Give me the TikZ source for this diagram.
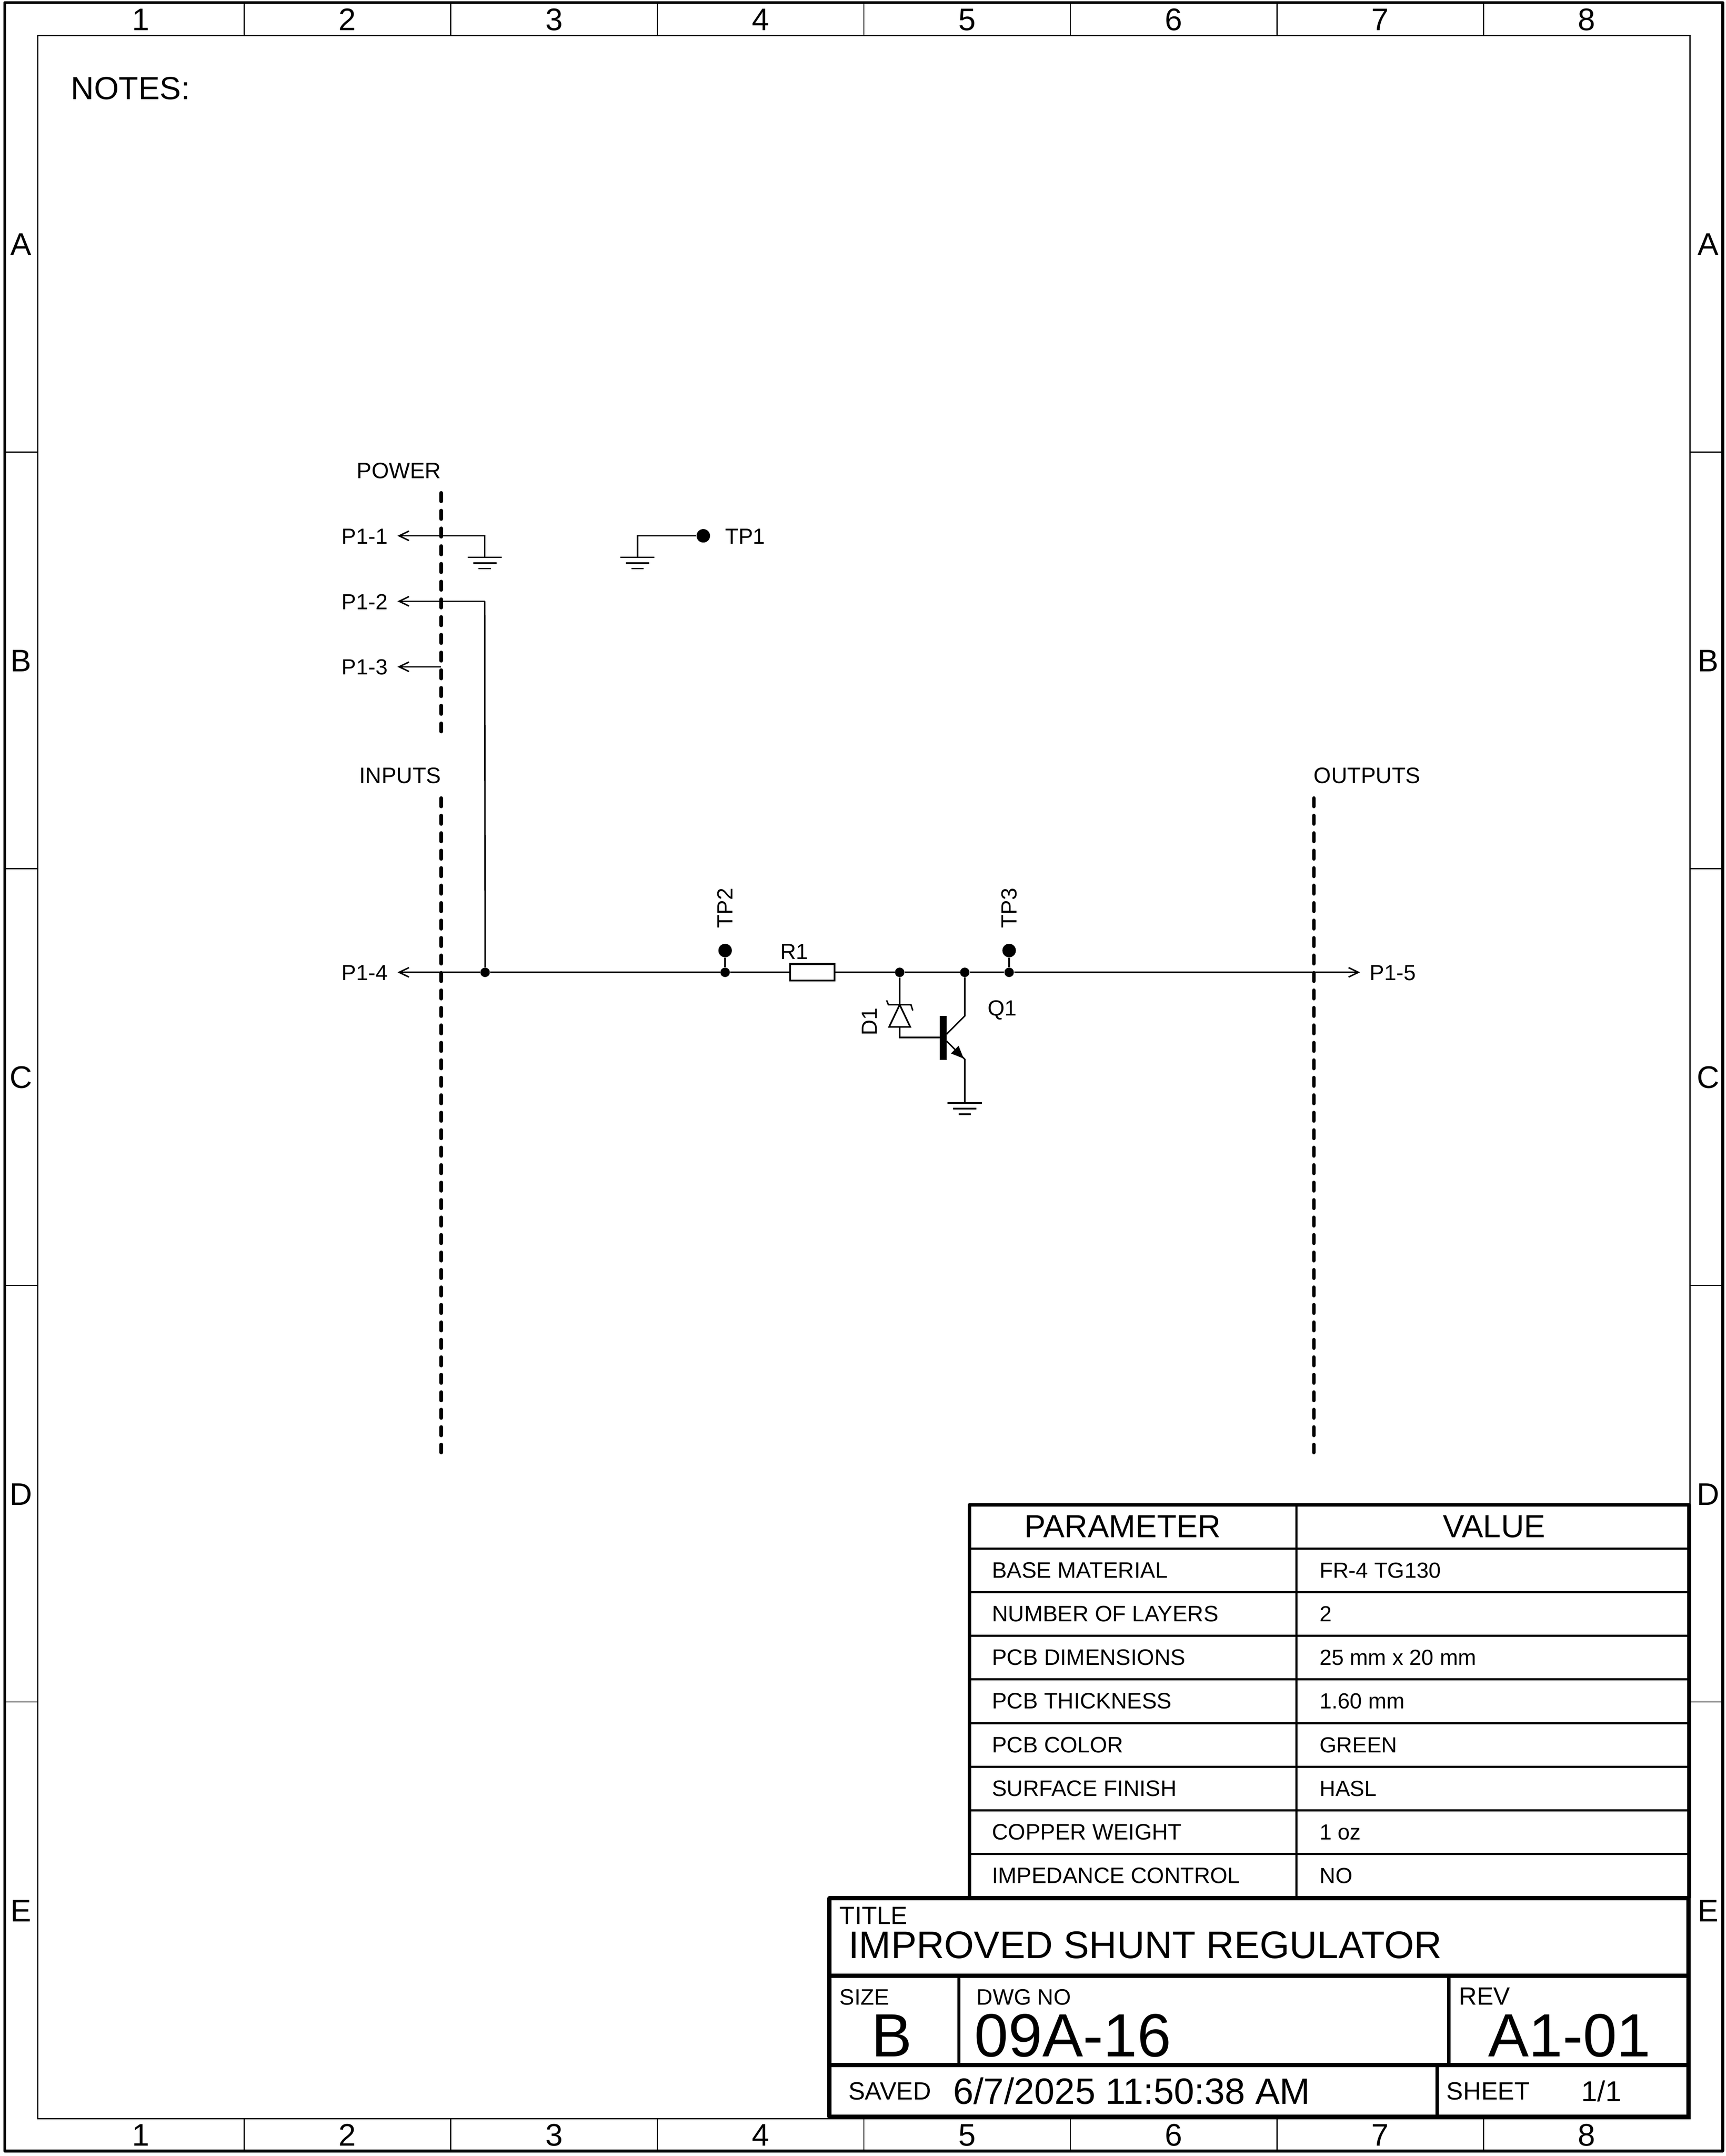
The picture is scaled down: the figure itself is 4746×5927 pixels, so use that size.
\documentclass[tikz,border=0pt]{standalone}
\usepackage{fontspec}
\setmainfont{Liberation Sans}
\usetikzlibrary{arrows.meta,calc}
\tikzset{
  txt/.style={inner sep=0pt,outer sep=0pt,anchor=base west,text=black},
  fsm/.style={txt,font=\fontsize{17.07}{20}\selectfont},
  fcap/.style={txt,font=\fontsize{17.45}{20}\selectfont},
  fmd/.style={txt,font=\fontsize{19.5}{22}\selectfont},
  fedge/.style={txt,font=\fontsize{24.4}{28}\selectfont},
  flg/.style={txt,font=\fontsize{25}{28}\selectfont},
  fttl/.style={txt,font=\fontsize{30}{34}\selectfont},
  fbig/.style={txt,font=\fontsize{47.7}{54}\selectfont},
  fdate/.style={txt,font=\fontsize{28.6}{32}\selectfont},
  fsh/.style={txt,font=\fontsize{22.5}{25}\selectfont},
  wire/.style={draw=black,line width=0.04cm},
  outlet/.style={wire,-{Straight Barb[length=0.27cm,width=0.26cm]}},
  junc/.style={circle,fill=black,inner sep=0pt,minimum size=0.26cm},
  pad/.style={circle,fill=black,inner sep=0pt,minimum size=0.37cm},
  busdash/.style={draw=black,line width=0.1cm,line cap=round,dash pattern=on 0.23cm off 0.25cm},
  pwrdash/.style={draw=black,line width=0.1cm,line cap=round,dash pattern=on 0.23cm off 0.257cm},
  tick/.style={draw=black,line width=0.028cm},
  rowline/.style={draw=black,line width=0.06cm},
  tblframe/.style={draw=black,line width=0.1cm,line join=round},
  heavy/.style={draw=black,line width=0.12cm,line join=round},
  divider/.style={draw=black,line width=0.09cm},
  gbar/.style={draw=black,line width=0.045cm},
  res/.style={rectangle,draw=black,line width=0.05cm,fill=white,inner sep=0pt,minimum width=1.22cm,minimum height=0.46cm},
}
\newcommand{\gnd}[1]{%
  \draw[gbar] ($(#1)+(-47,0)$) -- ($(#1)+(47,0)$);
  \draw[gbar] ($(#1)+(-32,16)$) -- ($(#1)+(32,16)$);
  \draw[gbar] ($(#1)+(-17,31)$) -- ($(#1)+(17,31)$);
}
\begin{document}
\begin{tikzpicture}[x=0.01cm,y=-0.01cm]
\useasboundingbox (0,0) rectangle (4746,5927);
\fill[white] (0,0) rectangle (4746,5927);
% frames
\draw[draw=black,line width=0.08cm,line join=round] (13,7) rectangle (4737,5913);
\draw[draw=black,line width=0.033cm] (103.5,97.5) rectangle (4647.5,5824);
\foreach \i in {1,...,7}{
  \pgfmathsetmacro{\xx}{103.5+568*\i}
  \draw[tick] (\xx,11) -- (\xx,97.5);
  \draw[tick] (\xx,5824) -- (\xx,5909);
}
\foreach \i in {1,...,4}{
  \pgfmathsetmacro{\yy}{97.5+1145.3*\i}
  \draw[tick] (17,\yy) -- (103.5,\yy);
  \draw[tick] (4647.5,\yy) -- (4733,\yy);
}
\foreach \i in {1,...,8}{
  \pgfmathsetmacro{\xx}{103.5+568*(\i-0.5)}
  \node[fedge,anchor=base] (top\i) at (\xx,83) {\i};
  \node[fedge,anchor=base] (bot\i) at (\xx,5899) {\i};
}
\foreach \l [count=\i] in {A,B,C,D,E}{
  \pgfmathsetmacro{\yy}{97.5+1145.3*(\i-0.5)+31}
  \node[fedge,anchor=base] (lft\l) at (58,\yy) {\l};
  \node[fedge,anchor=base] (rgt\l) at (4697,\yy) {\l};
}
\node[flg] (notes) at (195,273) {NOTES:};
% dashed bus lines
\coordinate (pwrT) at (1213,1355); \coordinate (pwrB) at (1213,2011);
\coordinate (inT) at (1213,2194);  \coordinate (inB) at (1213,3993);
\coordinate (outT) at (3613,2194); \coordinate (outB) at (3613,3993);
\draw[pwrdash] (pwrT) -- (pwrB);
\draw[busdash] (inT) -- (inB);
\draw[busdash] (outT) -- (outB);
\node[fcap] (lblpower) at (981,1315) {POWER};
\node[fcap] (lblinputs) at (988,2153) {INPUTS};
\node[fcap] (lbloutputs) at (3613,2153) {OUTPUTS};
% power connectors
\coordinate (p1) at (1093,1473); \coordinate (p2) at (1093,1653); \coordinate (p3) at (1093,1833);
\coordinate (p4) at (1093,2673); \coordinate (p5) at (3740,2673);
\coordinate (g1) at (1333,1532); \coordinate (g1c) at (1333,1473);
\coordinate (g2) at (1753,1532); \coordinate (g2c) at (1753,1473);
\coordinate (p2c) at (1333,1653); \coordinate (p3e) at (1213,1833);
\node[fsm] (lp1) at (940,1495) {P1-1};
\node[fsm] (lp2) at (940,1675) {P1-2};
\node[fsm] (lp3) at (940,1855) {P1-3};
\node[fsm] (lp4) at (940,2695) {P1-4};
\node[fsm] (lp5) at (3767,2695) {P1-5};
\draw[outlet] (g1) -- (g1c) -- (p1);
\draw[outlet] (p3e) -- (p3);
\gnd{g1}
\gnd{g2}
\node[pad] (tp1) at (1934,1473) {};
\draw[wire] (g2) -- (g2c) -- (tp1);
\node[fsm] (ltp1) at (1994,1495) {TP1};
% main bus junctions
\node[junc] (j0) at (1334,2673) {};
\node[junc] (j1) at (1994,2673) {};
\node[junc] (j2) at (2474,2673) {};
\node[junc] (j3) at (2653,2673) {};
\node[junc] (j4) at (2775,2673) {};
\node[res] (r1) at (2234,2673) {};
\node[pad] (tp2) at (1994,2613) {};
\node[pad] (tp3) at (2775,2613) {};
\draw[outlet] (j0) -- (p4);
\draw[outlet] (j4) -- (p5);
\draw[wire] (j0) -- (j1) -- (r1.west);
\draw[wire] (r1.east) -- (j2) -- (j3) -- (j4);
\draw[wire] (j1) -- (tp2);
\draw[wire] (j4) -- (tp3);
\draw[wire] (p2c) -- (j0);
\draw[outlet] (p2c) -- (p2);
\node[fsm,rotate=90] (ltp2) at (2015,2551) {TP2};
\node[fsm,rotate=90] (ltp3) at (2796,2551) {TP3};
\node[fsm] (lr1) at (2146,2637) {R1};
% zener
\coordinate (zk) at (2474,2762); \coordinate (za) at (2474,2823);
\coordinate (zb) at (2474,2852);
\coordinate (qb) at (2584,2852);
\draw[wire] (j2) -- (zk);
\draw[draw=black,line width=0.045cm,line join=miter] (2445,2823) -- (2503,2823) -- (zk) -- cycle;
\draw[wire] (2438,2750) -- (2443,2762) -- (2505,2762) -- (2510,2778);
\draw[wire] (za) -- (zb) -- (qb);
\node[fsm,rotate=90] (ld1) at (2412,2847) {D1};
% transistor
\fill[black] (2584,2793) rectangle (2603,2914);
\coordinate (qc1) at (2603,2843); \coordinate (qc2) at (2653,2793);
\coordinate (qe1) at (2603,2862); \coordinate (qe2) at (2653,2912);
\coordinate (g3) at (2653,3032);
\draw[wire] (qc1) -- (qc2) -- (j3);
\draw[wire] (qe1) -- (qe2) -- (g3);
\fill[black] (2650,2910) -- (2636,2875) -- (2615,2896) -- cycle;
\gnd{g3}
\node[fsm] (lq1) at (2716,2792) {Q1};
% parameter table
\fill[white] (2666,4137) rectangle (4645,5218);
\draw[rowline] (3565,4137) -- (3565,5218);
\foreach \i in {1,...,8}{
  \pgfmathsetmacro{\yy}{4137+120*\i}
  \draw[rowline] (2666,\yy) -- (4645,\yy);
}
\draw[tblframe] (2666,5218) -- (2666,4137) -- (4645,4137) -- (4645,5218);
\node[flg] (hpar) at (2817,4226) {PARAMETER};
\node[flg] (hval) at (3968,4226) {VALUE};
\foreach \p/\v [count=\i from 0] in {BASE MATERIAL/FR-4 TG130,NUMBER OF LAYERS/2,PCB DIMENSIONS/25 mm x 20 mm,PCB THICKNESS/1.60 mm,PCB COLOR/GREEN,SURFACE FINISH/HASL,COPPER WEIGHT/1 oz,IMPEDANCE CONTROL/NO}{
  \pgfmathsetmacro{\yy}{4337.5+120*\i}
  \node[fcap] (tp\i) at (2728,\yy) {\p};
  \node[fsm] (tv\i) at (3629,\yy) {\v};
}
% title block
\fill[white] (2281,5218) rectangle (4643,5819);
\draw[heavy] (2281,5218) rectangle (4643,5819);
\draw[heavy] (2281,5431) -- (4643,5431);
\draw[heavy] (2281,5677) -- (4643,5677);
\draw[divider] (2637,5431) -- (2637,5677);
\draw[divider] (3984,5431) -- (3984,5677);
\draw[divider] (3952,5677) -- (3952,5819);
\node[fmd] (ttitle) at (2309,5290) {TITLE};
\node[fttl] (vtitle) at (2333,5384) {IMPROVED SHUNT REGULATOR};
\node[fcap] (tsize) at (2309,5511) {SIZE};
\node[fbig] (vsize) at (2396,5654) {B};
\node[fcap] (tdwg) at (2686,5511) {DWG NO};
\node[fbig] (vdwg) at (2680,5654) {09A-16};
\node[fmd] (trev) at (4012,5511) {REV};
\node[fbig] (vrev) at (4092,5654) {A1-01};
\node[fmd] (tsaved) at (2333,5772) {SAVED};
\node[fdate] (vsaved) at (2621,5784) {6/7/2025 11:50:38 AM};
\node[fmd] (tsheet) at (3978,5772) {SHEET};
\node[fsh] (vsheet) at (4349,5777) {1/1};
\end{tikzpicture}
\end{document}
